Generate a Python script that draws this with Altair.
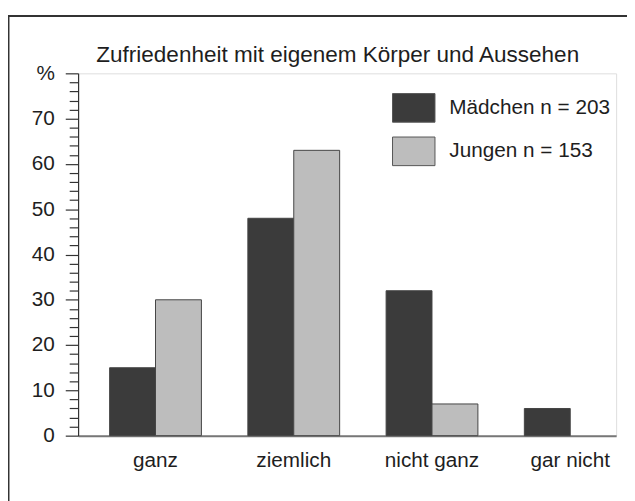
import altair as alt
import pandas as pd

categories = ["ganz", "ziemlich", "nicht ganz", "gar nicht"]
maedchen = [15, 48, 32, 6]
jungen = [30, 63, 7, 0]
series = ["Mädchen n = 203", "Jungen n = 153"]
colors = ["#3b3b3b", "#bdbdbd"]
y_ticks = list(range(0, 81, 2))
title_text = "Zufriedenheit mit eigenem Körper und Aussehen"

rows = []
for c, m, j in zip(categories, maedchen, jungen):
    if m > 0:
        rows.append({"Kategorie": c, "Gruppe": series[0], "Prozent": m})
    if j > 0:
        rows.append({"Kategorie": c, "Gruppe": series[1], "Prozent": j})
df = pd.DataFrame(rows)

FONT = "Liberation Sans"

bars = alt.Chart(df).mark_bar(stroke="#444", strokeWidth=1).encode(
    x=alt.X("Kategorie:N", sort=categories, title=None,
            scale=alt.Scale(paddingInner=0.336, paddingOuter=0.114, align=1, round=False),
            axis=alt.Axis(labelAngle=0, ticks=False, labelFontSize=21, labelFont=FONT,
                          labelColor="#1e1e1e", labelPadding=14, domainColor="#777",
                          domainWidth=2)),
    xOffset=alt.XOffset("Gruppe:N", sort=series, scale=alt.Scale(round=False)),
    y=alt.Y("Prozent:Q", title=None,
            scale=alt.Scale(domain=[0, 80], nice=False),
            axis=alt.Axis(values=y_ticks, grid=False, labelFontSize=21, labelFont=FONT,
                          labelColor="#1e1e1e",
                          labelExpr="datum.value % 10 == 0 ? (datum.value == 80 ? '%' : datum.label) : ''",
                          labelOverlap=False, labelPadding=11,
                          tickSize={"condition": {"test": "datum.value % 10 == 0", "value": 13}, "value": 9},
                          tickColor="#333", tickWidth=1.2, domainColor="#333", domainWidth=1.2)),
    color=alt.Color("Gruppe:N", sort=series,
                    scale=alt.Scale(domain=series, range=colors),
                    legend=alt.Legend(title=None, orient="none", legendX=318, legendY=13,
                                      padding=0, labelFontSize=21, labelFont=FONT,
                                      labelColor="#1e1e1e", labelOffset=14, labelLimit=400,
                                      symbolType="M-1,-0.674H1V0.674H-1Z",
                                      symbolSize=1849, symbolStrokeColor="#555",
                                      symbolStrokeWidth=1, rowPadding=5)),
)

one = alt.Data(values=[{"a": 1}])
top_line = alt.Chart(one).mark_rule(color="#333", strokeWidth=2).encode(
    x=alt.value(-71), x2=alt.value(560), y=alt.value(-58))
left_line = alt.Chart(one).mark_rule(color="#333", strokeWidth=2).encode(
    x=alt.value(-70.5), y=alt.value(-58), y2=alt.value(440))
title = alt.Chart(one).mark_text(fontSize=22.8, font=FONT, color="#1e1e1e",
                                 align="center", baseline="alphabetic").encode(
    x=alt.value(263), y=alt.value(-11), text=alt.value(title_text))

chart = alt.layer(top_line, left_line, title, bars).properties(
    width=545, height=367,
    autosize=alt.AutoSizeParams(type="none"),
    padding={"left": 71, "top": 63, "right": 11, "bottom": 63},
).configure_view(stroke=None).configure(background="white")

chart.save("out.html", embed_options={"renderer": "svg", "actions": False})
